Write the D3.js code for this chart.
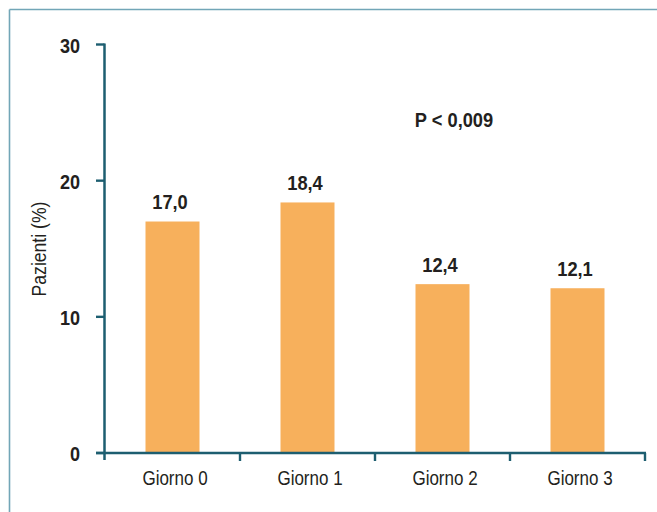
<!DOCTYPE html>
<html>
<head>
<meta charset="utf-8">
<script src="https://cdn.jsdelivr.net/npm/d3@7/dist/d3.min.js"></script>
<style>
  html, body { margin: 0; padding: 0; background: #fff; }
  svg { display: block; }
  text { font-family: "Liberation Sans", Arial, Helvetica, sans-serif; fill: #231f20; }
</style>
</head>
<body>
<svg id="chart" width="657" height="512"></svg>
<script>
// Percentage of patients per day
const categories = ["Giorno 0", "Giorno 1", "Giorno 2", "Giorno 3"];
const values = [17.0, 18.4, 12.4, 12.1];
const valueLabels = ["17,0", "18,4", "12,4", "12,1"];
const yTicks = [0, 10, 20, 30];
const yTitle = "Pazienti (%)";
const note = "P < 0,009";

const axisColor = "#1d5e70";
const barColor = "#f7b05c";
const frameColor = "#72a6b7";

const svg = d3.select("#chart");

// Condensed text: horizontal squeeze around an anchor point
function label(parent, tx, ty, str, opts) {
  const o = Object.assign({ size: 20, bold: false, k: 0.86, anchor: "middle", rotate: 0 }, opts);
  return parent.append("text")
    .attr("transform", `translate(${tx},${ty})` + (o.rotate ? ` rotate(${o.rotate})` : "") + ` scale(${o.k},1)`)
    .attr("text-anchor", o.anchor)
    .attr("font-size", o.size)
    .attr("font-weight", o.bold ? "bold" : "normal")
    .text(str);
}

// Frame lines along the top and left edges
svg.append("line").attr("x1", 9.5).attr("x2", 657).attr("y1", 9.5).attr("y2", 9.5)
  .attr("stroke", frameColor).attr("stroke-width", 1.6);
svg.append("line").attr("x1", 9.5).attr("x2", 9.5).attr("y1", 9.5).attr("y2", 512)
  .attr("stroke", frameColor).attr("stroke-width", 1.6);

const x0 = 105, x1 = 645, yBase = 453;
const x = d3.scaleBand().domain(categories).range([x0, x1])
  .paddingInner(0.6).paddingOuter(0.3);
const y = d3.scaleLinear().domain([0, 30]).range([yBase, 44.5]);

// Bars
svg.append("g").selectAll("rect").data(values).join("rect")
  .attr("x", (d, i) => x(categories[i]))
  .attr("width", x.bandwidth())
  .attr("y", d => y(d))
  .attr("height", d => y(0) - y(d))
  .attr("fill", barColor);

// Value labels above bars
const valG = svg.append("g");
values.forEach((v, i) => {
  label(valG, x(categories[i]) + x.bandwidth() / 2 - 2.5, y(v) - 12.5, valueLabels[i], { size: 21, bold: true, k: 0.87 });
});

// Y axis
const yAxisG = svg.append("g");
yAxisG.append("line").attr("x1", x0 - 0.5).attr("x2", x0 - 0.5).attr("y1", y(30) - 1).attr("y2", yBase + 7)
  .attr("stroke", axisColor).attr("stroke-width", 2.5);
yAxisG.selectAll("line.t").data(yTicks).join("line").attr("class", "t")
  .attr("x1", x0 - 9).attr("x2", x0 - 0.5).attr("y1", d => y(d)).attr("y2", d => y(d))
  .attr("stroke", axisColor).attr("stroke-width", 2.4);
yTicks.forEach(t => {
  label(yAxisG, 80, y(t) + 8, d3.format("d")(t), { size: 21, bold: true, k: 0.86, anchor: "end" });
});

// X axis: ticks at band boundaries, labels centred under bars
const xAxisG = svg.append("g");
xAxisG.append("line").attr("x1", x0 - 9).attr("x2", x1 + 1).attr("y1", yBase).attr("y2", yBase)
  .attr("stroke", axisColor).attr("stroke-width", 2.5);
const bounds = d3.range(1, categories.length + 1).map(i => x0 + i * x.step());
xAxisG.selectAll("line.b").data(bounds).join("line").attr("class", "b")
  .attr("x1", d => d).attr("x2", d => d).attr("y1", yBase).attr("y2", yBase + 8)
  .attr("stroke", axisColor).attr("stroke-width", 2.4);
categories.forEach(c => {
  label(xAxisG, x(c) + x.bandwidth() / 2 + 2.5, yBase + 32, c, { size: 21, k: 0.81 });
});

// Y title
label(svg, 46, 249, yTitle, { size: 20, k: 0.88, rotate: -90 });

// Significance note
label(svg, 454, 127, note, { size: 21, bold: true, k: 0.87 });
</script>
</body>
</html>
